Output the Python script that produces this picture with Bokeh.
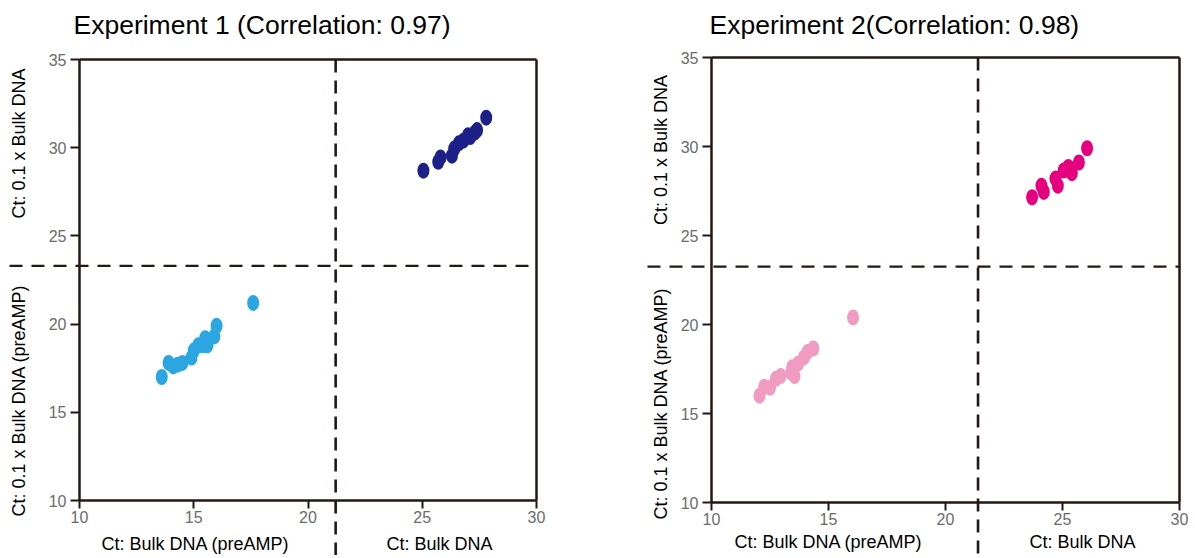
from bokeh.plotting import figure
from bokeh.models import Range1d, Label, FixedTicker, LinearAxis
from bokeh.layouts import row
from bokeh.embed import file_html
from bokeh.resources import INLINE
import math

# ---------------- data ----------------
titles = ["Experiment 1 (Correlation: 0.97)", "Experiment 2(Correlation: 0.98)"]
x_ticks = [10, 15, 20, 25, 30]
y_ticks = [10, 15, 20, 25, 30, 35]
x_label_pre = "Ct: Bulk DNA (preAMP)"
x_label_bulk = "Ct: Bulk DNA"
y_label_bulk = "Ct: 0.1 x Bulk DNA"
y_label_pre = "Ct: 0.1 x Bulk DNA (preAMP)"

exp1_pre_x = [13.6, 13.9, 14.1, 14.3, 14.5, 14.9, 15.0, 15.2, 15.4, 15.5, 15.6, 15.9, 16.0, 17.6]
exp1_pre_y = [17.0, 17.8, 17.6, 17.7, 17.8, 18.1, 18.5, 18.8, 18.8, 19.2, 18.8, 19.3, 19.9, 21.2]
exp1_bulk_x = [25.05, 25.7, 25.8, 26.3, 26.4, 26.6, 26.8, 27.0, 27.1, 27.3, 27.4, 27.8]
exp1_bulk_y = [28.7, 29.2, 29.45, 29.55, 29.95, 30.25, 30.4, 30.7, 30.6, 30.85, 31.0, 31.7]

exp2_pre_x = [12.05, 12.25, 12.5, 12.75, 12.95, 13.4, 13.45, 13.55, 13.7, 13.95, 14.1, 14.35, 16.05]
exp2_pre_y = [16.0, 16.5, 16.45, 16.95, 17.1, 17.3, 17.6, 17.1, 17.8, 18.15, 18.45, 18.65, 20.4]
exp2_bulk_x = [23.7, 24.1, 24.2, 24.7, 24.8, 25.05, 25.25, 25.4, 25.7, 26.05]
exp2_bulk_y = [27.15, 27.8, 27.45, 28.2, 27.8, 28.65, 28.85, 28.5, 29.1, 29.9]

# threshold lines (data units)
exp1_vline, exp1_hline = 21.21, 23.3
exp2_vline, exp2_hline = 21.39, 23.25

colors = {
    "exp1_pre": "#2CA6E0",
    "exp1_bulk": "#1D2088",
    "exp2_pre": "#F09BC2",
    "exp2_bulk": "#E4007F",
}

DARK = "#231815"
FONT = "Liberation Sans"
H = 555


def style_axis(ax, ticks, bounds, loc, show):
    ax.ticker = FixedTicker(ticks=ticks if show else [])
    ax.bounds = bounds
    ax.fixed_location = loc
    ax.axis_line_color = DARK
    ax.axis_line_width = 2.5
    ax.minor_tick_line_color = None
    if show:
        ax.major_tick_line_color = DARK
        ax.major_tick_line_width = 2
        ax.major_tick_in = 0
        ax.major_label_text_font = FONT
        ax.major_label_text_font_size = "16px"
        ax.major_label_text_color = "#6B6B6B"
    else:
        ax.major_tick_line_color = None
        ax.major_label_text_color = None


def make_panel(title, pre_x, pre_y, bulk_x, bulk_y, c_pre, c_bulk, vline, hline,
               width, xr, yr, title_dx, title_y, hline_start,
               ylab_x, ylab_upper, ylab_lower, xlab_y, xlab_pre_x, xlab_bulk_x):
    p = figure(width=width, height=H, output_backend="svg", toolbar_location=None,
               x_range=Range1d(*xr), y_range=Range1d(*yr),
               min_border=0, min_border_left=0, min_border_right=0,
               min_border_top=0, min_border_bottom=0)
    p.grid.visible = False
    p.outline_line_color = None
    p.background_fill_color = "white"
    p.border_fill_color = "white"

    style_axis(p.xaxis[0], x_ticks, (10, 30), 10, True)
    p.xaxis[0].major_tick_out = 8
    p.xaxis[0].major_label_standoff = 2
    style_axis(p.yaxis[0], y_ticks, (10, 35), 10, True)
    p.yaxis[0].major_tick_out = 9
    p.yaxis[0].major_label_standoff = 4

    top = LinearAxis()
    style_axis(top, x_ticks, (10, 30), 35, False)
    p.add_layout(top, "above")
    right = LinearAxis()
    style_axis(right, y_ticks, (10, 35), 30, False)
    p.add_layout(right, "right")

    # threshold lines
    p.segment(x0=[hline_start], y0=[hline], x1=[30], y1=[hline],
              line_color=DARK, line_width=2.3, line_dash="13 9")
    p.segment(x0=[vline], y0=[35], x1=[vline], y1=[yr[0]],
              line_color=DARK, line_width=2.6, line_dash="13 8")

    p.ellipse(x=pre_x, y=pre_y, width=12, height=16, width_units="screen",
              height_units="screen", fill_color=c_pre, line_color=None)
    p.ellipse(x=bulk_x, y=bulk_y, width=12, height=16, width_units="screen",
              height_units="screen", fill_color=c_bulk, line_color=None)

    p.add_layout(Label(x=10, y=title_y, x_offset=title_dx, text=title, text_font=FONT,
                       text_font_size="26.5px", text_color="black",
                       text_align="left", text_baseline="alphabetic"))

    lab = dict(text_font=FONT, text_font_size="18px", text_color="black",
               text_align="center", text_baseline="alphabetic")
    p.add_layout(Label(x=xlab_pre_x, y=xlab_y, text=x_label_pre, **lab))
    p.add_layout(Label(x=xlab_bulk_x, y=xlab_y, text=x_label_bulk, **lab))
    p.add_layout(Label(x=ylab_x, y=ylab_upper, text=y_label_bulk, angle=math.pi / 2, **lab))
    p.add_layout(Label(x=ylab_x, y=ylab_lower, text=y_label_pre, angle=math.pi / 2, **lab))
    return p


# pixel placement of each panel's box expressed as data ranges of the whole canvas
# left: box x 79..536 (10..30), y 59..500 (35..10); canvas 600 x H
sx1 = 457 / 20.0
sy1 = 441 / 25.0
xr1 = (10 - 79 / sx1, 10 + (600 - 79) / sx1)
yr1 = (10 - (H - 500) / sy1, 35 + 59 / sy1)
# right: box x 111..579 (local), y 57..502; canvas 595 x H
sx2 = 468 / 20.0
sy2 = 445 / 25.0
xr2 = (10 - 111 / sx2, 10 + (595 - 111) / sx2)
yr2 = (10 - (H - 502) / sy2, 35 + 57 / sy2)

p1 = make_panel(titles[0], exp1_pre_x, exp1_pre_y, exp1_bulk_x, exp1_bulk_y,
                colors["exp1_pre"], colors["exp1_bulk"], exp1_vline, exp1_hline,
                width=600, xr=xr1, yr=yr1, title_dx=-6, title_y=35 + (59 - 24) / sy1,
                hline_start=10 - (79 - 9) / sx1,
                ylab_x=10 - (79 - 18.5) / sx1, ylab_upper=35 - (143 - 59) / sy1,
                ylab_lower=35 - (400 - 59) / sy1, xlab_y=35 - (543 - 59) / sy1,
                xlab_pre_x=15.08, xlab_bulk_x=25.76)
p2 = make_panel(titles[1], exp2_pre_x, exp2_pre_y, exp2_bulk_x, exp2_bulk_y,
                colors["exp2_pre"], colors["exp2_bulk"], exp2_vline, exp2_hline,
                width=595, xr=xr2, yr=yr2, title_dx=-2, title_y=35 + (57 - 24) / sy2,
                hline_start=10 - (111 - 47) / sx2,
                ylab_x=10 - (111 - 60.5) / sx2, ylab_upper=35 - (149.5 - 57) / sy2,
                ylab_lower=35 - (403 - 57) / sy2, xlab_y=35 - (541 - 57) / sy2,
                xlab_pre_x=15.0, xlab_bulk_x=25.85)

layout = row(p1, p2)
open("out.html", "w").write(file_html(layout, INLINE))
